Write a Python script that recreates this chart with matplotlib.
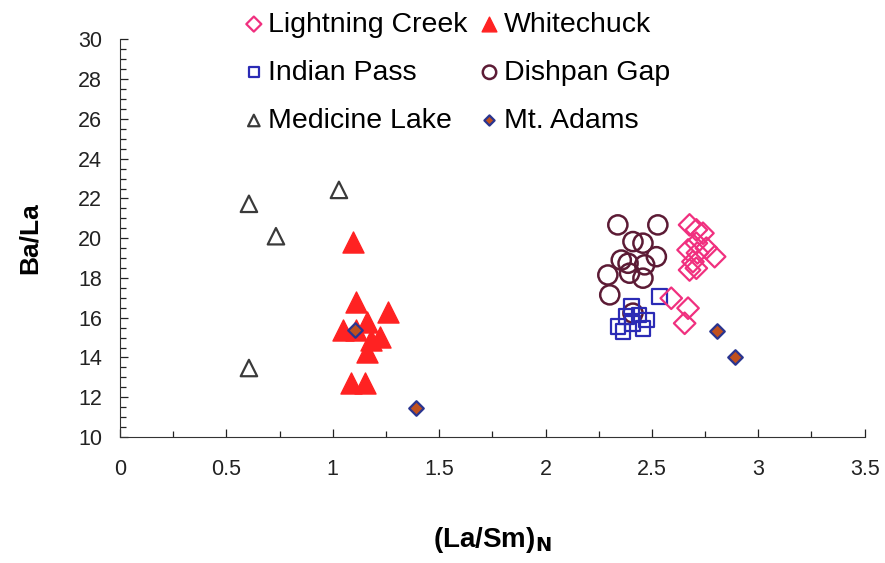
import matplotlib.pyplot as plt
import matplotlib.ticker as mticker

plt.rcParams['font.family'] = ['Liberation Sans', 'DejaVu Sans']

# ---- Daten ----
lc_x = [2.677, 2.709, 2.740, 2.670, 2.709, 2.756, 2.795, 2.693, 2.677, 2.709, 2.714, 2.591, 2.670, 2.654]
lc_y = [20.67, 20.42, 20.25, 19.41, 19.75, 19.50, 19.07, 18.82, 18.40, 18.49, 19.26, 16.98, 16.48, 15.72]

wc_x = [1.096, 1.107, 1.260, 1.049, 1.159, 1.221, 1.182, 1.159, 1.088, 1.151, 1.110]
wc_y = [19.83, 16.81, 16.31, 15.38, 15.80, 15.05, 14.88, 14.29, 12.70, 12.70, 15.40]

ip_x = [2.536, 2.403, 2.380, 2.440, 2.340, 2.364, 2.458, 2.410, 2.474]
ip_y = [17.06, 16.56, 16.05, 16.14, 15.55, 15.30, 15.47, 15.72, 15.89]

dg_x = [2.340, 2.528, 2.411, 2.458, 2.521, 2.356, 2.388, 2.466, 2.293, 2.395, 2.458, 2.302, 2.411]
dg_y = [20.67, 20.67, 19.83, 19.75, 19.07, 18.90, 18.74, 18.66, 18.15, 18.24, 17.99, 17.15, 16.23]

ml_x = [0.606, 1.029, 0.733, 0.606]
ml_y = [21.73, 22.43, 20.10, 13.47]

ma_x = [1.104, 1.390, 2.804, 2.889]
ma_y = [15.38, 11.46, 15.33, 14.03]

# ---- Plot ----
fig = plt.figure(figsize=(8.85, 5.63), dpi=100)
ax = fig.add_axes([0.1356, 0.2238, 0.8414, 0.7062])

ax.scatter(dg_x, dg_y, s=190, marker="o", facecolors="none", edgecolors="#5c1b35",
           linewidths=1.8, label="Dishpan Gap", zorder=2)
ax.scatter(ip_x, ip_y, s=110, marker="s", facecolors="none", edgecolors="#2b2bb5",
           linewidths=1.6, label="Indian Pass", zorder=3)
ax.scatter(lc_x, lc_y, s=120, marker="D", facecolors="none", edgecolors="#f0307f",
           linewidths=1.6, label="Lightning Creek", zorder=3)
ax.scatter(wc_x, wc_y, s=230, marker="^", color="#ff2222", edgecolors="#ff2222",
           label="Whitechuck", zorder=2)
ax.scatter(ml_x, ml_y, s=140, marker="^", facecolors="none", edgecolors="#3a3a3a",
           linewidths=1.6, label="Medicine Lake", zorder=2)
ax.scatter(ma_x, ma_y, s=55, marker="D", color="#c0501e", edgecolors="#2a3590",
           linewidths=1.6, label="Mt. Adams", zorder=4)

ax.set_xlim(0, 3.5)
ax.set_ylim(10, 30)
ax.xaxis.set_major_locator(mticker.MultipleLocator(0.5))
ax.xaxis.set_minor_locator(mticker.MultipleLocator(0.25))
ax.yaxis.set_major_locator(mticker.MultipleLocator(2))
ax.yaxis.set_minor_locator(mticker.MultipleLocator(0.5))
ax.xaxis.set_major_formatter(mticker.FuncFormatter(lambda v, p: f"{v:g}"))
ax.tick_params(which="both", direction="in", labelsize=15.5, colors="#222222")
ax.tick_params(which="major", length=6, width=0.9)
ax.tick_params(which="minor", length=4, width=0.9)
ax.tick_params(axis="x", pad=16)
ax.tick_params(axis="y", pad=13)
for side in ["top", "right"]:
    ax.spines[side].set_visible(False)
for side in ["left", "bottom"]:
    ax.spines[side].set_color("#333333")

ax.set_ylabel("Ba/La", fontsize=19, fontweight="bold", labelpad=26)
ax.set_xlabel(r"(La/Sm)$_\mathbf{N}$", fontsize=20, fontweight="bold", labelpad=32)

# Legende oben (zwei Spalten)
h, l = ax.get_legend_handles_labels()
order = ["Lightning Creek", "Indian Pass", "Medicine Lake", "Whitechuck", "Dishpan Gap", "Mt. Adams"]
hd = dict(zip(l, h))
leg = fig.legend([hd[k] for k in order], order, loc="upper left", bbox_to_anchor=(0.245, 1.025),
                 ncol=2, frameon=False, fontsize=20.5, handletextpad=0.1,
                 columnspacing=0.37, labelspacing=0.78, markerscale=0.7, handlelength=0.8)

fig.savefig("out.png", dpi=100)
